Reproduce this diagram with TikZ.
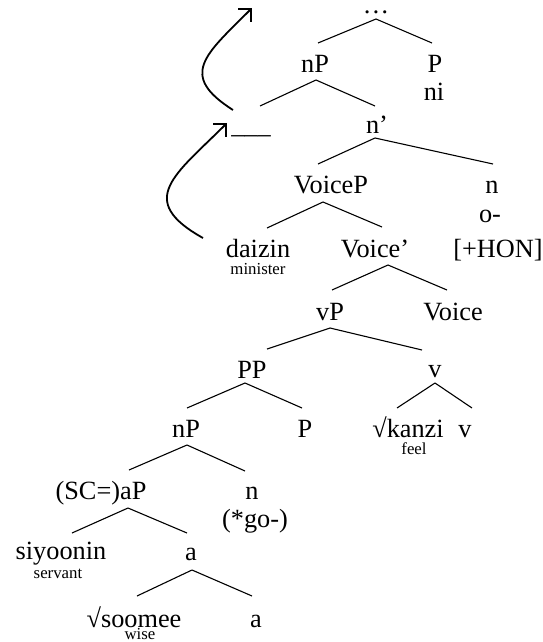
\documentclass[tikz,border=0pt]{standalone}
\usepackage{fontspec}
\setmainfont{Liberation Serif}
\usetikzlibrary{arrows.meta}
\begin{document}
\begin{tikzpicture}[x=1pt,y=-1pt,
  lab/.style={anchor=base,inner sep=0pt,font=\fontsize{26.3}{29}\selectfont},
  gloss/.style={anchor=base,inner sep=0pt,text height=9pt,font=\fontsize{16.8}{18}\selectfont},
  edge/.style={line width=1.1pt},
  mv/.style={line width=1.8pt,-{Straight Barb[length=9pt,width=18pt]}}
]
\useasboundingbox (0,0) rectangle (543,642);

\node[lab,text height=4pt] (top) at (376,14) {…};
\node[lab] (np1) at (315,72) {nP};
\node[lab] (p1) at (435,72) {P};
\node[lab] (ni) at (434,100) {ni};
\node[lab] (gap) at (251,133) {\_\_\_};
\node[lab] (nbar) at (377,133) {n’};
\node[lab] (voicep) at (331,193) {VoiceP};
\node[lab] (n2) at (492,193) {n};
\node[lab] (o) at (490,222) {o-};
\node[lab] (hon) at (498,257) {[+HON]};
\node[lab] (daizin) at (258,257) {daizin};
\node[gloss] (minister) at (258,274) {minister};
\node[lab] (voicebar) at (375,257) {Voice’};
\node[lab] (vp) at (330,320) {vP};
\node[lab] (voice) at (453,320) {Voice};
\node[lab] (pp) at (252,378) {PP};
\node[lab] (v1) at (435,377) {v};
\node[lab] (np2) at (186,437) {nP};
\node[lab] (p2) at (305,437) {P};
\node[lab] (kanzi) at (408,437) {√kanzi};
\node[gloss] (feel) at (414,454) {feel};
\node[lab] (v2) at (465,437) {v};
\node[lab] (ap) at (101,499) {(SC=)aP};
\node[lab] (n3) at (252,499) {n};
\node[lab] (go) at (255,527) {(*go-)};
\node[lab] (siyoonin) at (61,559) {siyoonin};
\node[gloss] (servant) at (58,578) {servant};
\node[lab] (a1) at (191,560) {a};
\node[lab] (soomee) at (134,627) {√soomee};
\node[gloss] (wise) at (140,639) {wise};
\node[lab] (a2) at (256,627) {a};

\draw[edge] ([yshift=-5pt]top.base) -- ([xshift=3pt,yshift=29pt]np1.base);
\draw[edge] ([yshift=-5pt]top.base) -- ([xshift=-3pt,yshift=29pt]p1.base);
\draw[edge] ([xshift=1pt,yshift=-8pt]np1.base) -- ([xshift=9pt,yshift=27pt]gap.base);
\draw[edge] ([xshift=1pt,yshift=-8pt]np1.base) -- ([xshift=-2pt,yshift=27pt]nbar.base);
\draw[edge] ([xshift=-2pt,yshift=-5pt]nbar.base) -- ([xshift=-13pt,yshift=29pt]voicep.base);
\draw[edge] ([xshift=-2pt,yshift=-5pt]nbar.base) -- ([xshift=1pt,yshift=29pt]n2.base);
\draw[edge] ([xshift=-8pt,yshift=-9pt]voicep.base) -- ([xshift=9pt,yshift=29pt]daizin.base);
\draw[edge] ([xshift=-8pt,yshift=-9pt]voicep.base) -- ([xshift=7pt,yshift=30pt]voicebar.base);
\draw[edge] ([xshift=13pt,yshift=-8pt]voicebar.base) -- ([xshift=2pt,yshift=30pt]vp.base);
\draw[edge] ([xshift=13pt,yshift=-8pt]voicebar.base) -- ([xshift=-6pt,yshift=30pt]voice.base);
\draw[edge] ([yshift=-8pt]vp.base) -- ([xshift=15pt,yshift=29pt]pp.base);
\draw[edge] ([yshift=-8pt]vp.base) -- ([xshift=-13pt,yshift=27pt]v1.base);
\draw[edge] ([xshift=-7pt,yshift=-5pt]pp.base) -- ([xshift=1pt,yshift=29pt]np2.base);
\draw[edge] ([xshift=-7pt,yshift=-5pt]pp.base) -- ([xshift=-3pt,yshift=29pt]p2.base);
\draw[edge] ([yshift=-6pt]v1.base) -- ([xshift=-11pt,yshift=29pt]kanzi.base);
\draw[edge] ([yshift=-6pt]v1.base) -- ([xshift=7pt,yshift=29pt]v2.base);
\draw[edge] ([xshift=1pt,yshift=-8pt]np2.base) -- ([xshift=28pt,yshift=29pt]ap.base);
\draw[edge] ([xshift=1pt,yshift=-8pt]np2.base) -- ([xshift=-7pt,yshift=28pt]n3.base);
\draw[edge] ([xshift=27pt,yshift=-9pt]ap.base) -- ([xshift=11pt,yshift=26pt]siyoonin.base);
\draw[edge] ([xshift=27pt,yshift=-9pt]ap.base) -- ([xshift=-4pt,yshift=27pt]a1.base);
\draw[edge] ([xshift=1pt,yshift=-10pt]a1.base) -- ([xshift=3pt,yshift=31pt]soomee.base);
\draw[edge] ([xshift=1pt,yshift=-10pt]a1.base) -- ([xshift=-4pt,yshift=31pt]a2.base);

\coordinate (m1s) at (203,238);
\coordinate (m1e) at (227,123);
\coordinate (m2s) at (233,110);
\coordinate (m2e) at (252,8);
\draw[mv] (m1s) .. controls (135,200) and (175,175) .. (m1e);
\draw[mv] (m2s) .. controls (178,75) and (205,55) .. (m2e);
\end{tikzpicture}
\end{document}
